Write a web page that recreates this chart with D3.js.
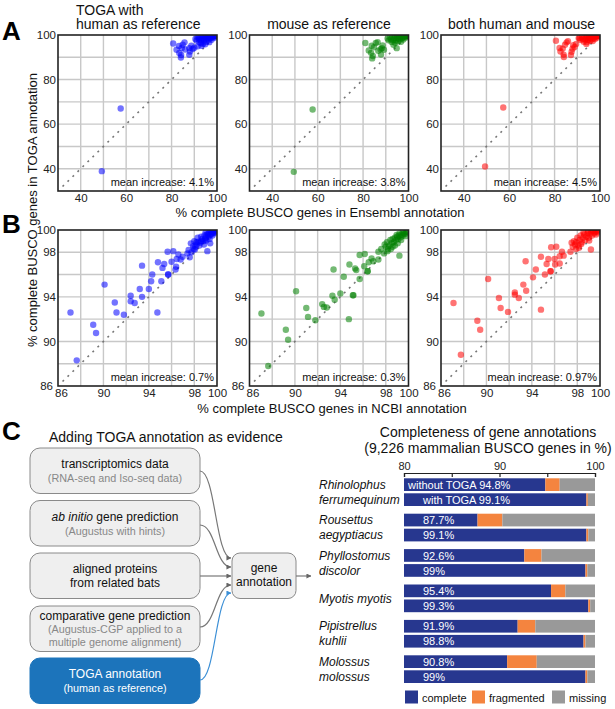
<!DOCTYPE html>
<html><head><meta charset="utf-8">
<script src="https://cdn.jsdelivr.net/npm/d3@7"></script>
<style>body{margin:0;background:#fff}svg{display:block}</style>
</head><body><svg id="c" width="615" height="709"></svg>
<script>
// ---------------- DATA ----------------
const scatterTitles = [["TOGA with","human as reference"],["mouse as reference"],["both human and mouse"]];
const ensemblTicks = [40,60,80,100];
const ensemblGrid = [40,50,60,70,80,90];
const ncbiTicks = [86,90,94,98,100];
const ncbiGrid = [88,90,92,94,96,98];
const meanIncreaseEnsembl = ["4.1%","3.8%","4.5%"];
const meanIncreaseNCBI = ["0.7%","0.3%","0.97%"];

const ensemblHuman = [[57.6,67.0],[49.3,38.9],
[80.7,96.2],[82.2,93.4],[83.4,91.9],[84.1,89.9],[84.2,91.0],[84.9,95.6],[85.7,96.7],[84.5,94.2],[83.3,95.1],[87.8,94.1],[88.1,92.6],[88.7,95.2],[89.3,93.7],[87.8,91.1],[90.0,94.3],[86.0,93.5],
[90.5,98.2],[91.0,97.5],[91.5,99.0],[92.0,98.0],[92.3,96.6],[92.8,99.2],[93.0,97.8],[93.5,98.6],[93.8,96.0],[94.0,99.4],[94.3,97.5],[94.6,98.8],[95.0,99.6],[95.2,97.0],[95.5,98.3],[95.8,99.1],[96.0,99.7],[96.2,97.9],[96.5,98.9],[96.8,99.5],[97.0,99.8],[97.2,98.6],[97.5,99.3],[97.8,99.7],[98.0,99.9],[98.2,99.2],[98.5,99.6],[98.8,99.9],[99.0,99.5],[99.2,99.8],[99.5,99.9],[99.7,99.7],[99.9,99.95],[94.8,95.8],[93.2,95.2],[96.6,96.8],[97.6,97.9],[98.6,98.7],[99.4,99.3],[91.5,94.9],[93.0,96.4],[94.0,98.2],[91.9,99.1]];
const ensemblMouse = [[57.8,66.6],[49.5,38.6],
[81.0,96.4],[82.5,93.1],[83.5,92.0],[84.0,89.5],[84.3,90.6],[85.6,96.4],[86.4,96.8],[84.8,94.5],[83.8,95.2],[87.7,93.6],[88.3,94.1],[88.6,95.3],[87.9,91.2],[89.2,93.4],[86.7,92.9],[94.8,94.1],
[90.8,98.4],[91.3,97.6],[91.8,99.1],[92.2,98.1],[92.6,96.9],[93.0,99.3],[93.3,97.9],[93.7,98.7],[94.1,96.5],[94.2,99.5],[94.5,97.6],[94.8,98.9],[95.1,99.6],[95.4,97.2],[95.6,98.4],[95.9,99.2],[96.1,99.7],[96.3,98.0],[96.6,99.0],[96.9,99.5],[97.1,99.8],[97.3,98.7],[97.6,99.4],[97.9,99.7],[98.1,99.9],[98.3,99.3],[98.6,99.6],[98.9,99.9],[99.1,99.5],[99.3,99.8],[99.6,99.9],[99.8,99.7],[99.9,99.95],[93.4,95.6],[96.7,97.0],[97.7,98.0],[98.7,98.8],[99.4,99.3]];
const ensemblBoth = [[57.4,67.5],[49.4,41.0],
[80.6,97.4],[82.2,94.2],[82.6,92.6],[84.1,90.1],[84.0,91.2],[85.3,96.7],[85.9,97.2],[83.6,93.9],[84.6,95.6],[87.5,92.5],[87.9,93.8],[88.2,95.4],[88.8,94.6],[87.2,91.0],[89.5,96.0],[90.6,98.6],
[91.0,98.5],[91.5,97.8],[92.0,99.2],[92.4,98.2],[92.8,97.0],[93.2,99.4],[93.5,98.0],[93.9,98.8],[94.2,96.8],[94.4,99.5],[94.7,97.8],[95.0,99.0],[95.3,99.7],[95.6,97.4],[95.8,98.5],[96.1,99.3],[96.3,99.8],[96.5,98.1],[96.8,99.1],[97.0,99.6],[97.2,99.85],[97.5,98.8],[97.8,99.5],[98.0,99.8],[98.2,99.9],[98.4,99.4],[98.7,99.7],[99.0,99.9],[99.2,99.6],[99.4,99.85],[99.6,99.95],[99.8,99.8],[99.95,99.95],[94.0,96.0],[96.8,97.3],[97.8,98.2],[98.8,98.9],[99.5,99.4]];

const ncbiHuman = [[87.1,92.6],[90.1,95.1],[89.1,91.5],[89.35,90.75],[87.65,88.3],[91.0,93.5],[91.15,92.6],[91.8,92.4],[92.4,94.1],[92.4,93.6],[92.75,93.45],[93.2,94.7],[93.4,94.0],[93.4,96.8],[94.0,94.7],[94.2,95.4],[94.3,96.0],[94.75,92.6],[94.8,97.1],[95.1,95.4],[95.2,96.6],[95.35,96.95],[95.7,96.0],[95.7,96.0],[95.65,98.05],[96.15,98.1],[96.0,97.15],[96.35,96.45],[96.4,96.7],[96.45,97.4],[96.6,97.8],[96.8,97.35],[96.97,97.6],[97.4,97.9],[97.5,98.2],[97.6,97.55],[97.75,98.0],[97.9,98.55],[98.05,98.25],[98.2,98.7],[98.35,98.95],[98.5,98.85],[98.8,99.0],[98.95,99.15],[99.15,98.1],[99.4,98.8],[99.2,99.6],[99.5,99.65],[99.65,99.75],[99.8,99.8],
[97.7,98.8],[98.0,99.0],[98.1,98.5],[98.3,99.3],[98.45,98.6],[98.6,99.4],[98.7,99.2],[98.9,99.5],[99.0,99.3],[99.1,99.6],[99.25,99.4],[99.3,99.75],[99.4,99.55],[99.55,99.85],[99.6,99.5],[99.7,99.9],[99.75,99.7],[99.85,99.9],[99.9,99.95],[99.45,99.9],[99.0,99.8],[98.6,99.0],[98.2,98.9],[97.95,98.3],[98.85,98.7],[99.05,99.05],[99.35,99.2],[99.65,99.95]];
const ncbiMouse = [[87.05,92.5],[90.1,94.5],[89.2,91.05],[89.4,90.15],[87.65,87.8],[91.0,93.0],[91.15,92.2],[91.8,91.9],[92.4,93.35],[92.55,93.1],[92.8,93.05],[93.3,94.1],[93.5,93.75],[93.4,96.45],[94.0,94.3],[94.3,95.8],[94.8,96.9],[94.75,92.0],[95.1,94.15],[95.15,94.15],[95.3,96.55],[95.4,96.4],[95.7,95.6],[95.7,97.75],[96.15,97.85],[96.1,96.75],[96.4,96.3],[96.4,96.3],[96.5,97.1],[96.75,97.45],[96.9,97.2],[97.35,98.05],[97.35,97.35],[97.85,97.9],[98.0,98.5],[98.15,98.1],[99.2,97.7],
[97.6,98.3],[97.9,98.7],[98.1,98.9],[98.3,98.6],[98.4,99.1],[98.5,98.8],[98.6,99.2],[98.7,98.9],[98.8,99.3],[98.9,99.1],[99.0,99.4],[99.1,99.2],[99.2,99.5],[99.3,99.35],[99.4,99.6],[99.5,99.5],[99.6,99.7],[99.7,99.65],[99.8,99.8],[99.9,99.85],[99.5,99.8],[99.2,99.7],[98.95,99.55],[98.6,98.5],[98.2,98.3],[99.05,98.8],[99.35,99.1],[99.75,99.45],[98.45,98.3],[98.8,98.6]];
const ncbiBoth = [[87.1,93.45],[90.15,95.6],[89.2,91.85],[89.45,91.05],[87.75,88.8],[91.1,93.9],[91.25,93.0],[91.9,92.65],[92.5,94.4],[92.5,94.2],[92.85,93.9],[93.25,95.1],[93.5,94.55],[93.45,97.2],[94.1,95.75],[94.35,96.45],[94.8,92.85],[94.8,97.6],[95.15,96.0],[95.3,96.95],[95.45,97.4],[95.65,96.3],[95.65,96.3],[95.7,98.45],[96.15,98.5],[96.0,97.4],[96.05,96.9],[96.45,97.0],[96.45,97.65],[96.65,98.05],[96.8,97.7],[97.4,98.05],[97.5,98.85],[97.8,98.7],[97.9,98.3],[99.2,98.25],
[97.7,99.0],[97.9,98.9],[98.0,99.3],[98.1,98.6],[98.2,99.1],[98.3,99.5],[98.4,98.9],[98.5,99.3],[98.6,99.6],[98.7,99.1],[98.8,99.4],[98.9,99.7],[99.0,99.3],[99.1,99.6],[99.2,99.8],[99.3,99.5],[99.4,99.9],[99.5,99.7],[99.6,99.85],[99.7,99.95],[99.8,99.8],[99.9,99.95],[99.35,99.95],[98.95,99.9],[98.55,99.8],[98.15,98.4],[97.6,98.5],[99.65,99.6],[99.05,99.05],[98.35,98.75]];

const flowBoxes = [["transcriptomics data","(RNA-seq and Iso-seq data)"],["ab initio gene prediction","(Augustus with hints)"],["aligned proteins","from related bats"],["comparative gene prediction","(Augustus-CGP applied to a","multiple genome alignment)"],["TOGA annotation","(human as reference)"]];

const speciesLines = [["Rhinolophus","ferrumequinum"],["Rousettus","aegyptiacus"],["Phyllostomus","discolor"],["Myotis myotis"],["Pipistrellus","kuhlii"],["Molossus","molossus"]];
const completeWithout = [94.8,87.7,92.6,95.4,91.9,90.8];
const fragmentedWithout = [1.5,2.6,1.8,1.5,1.85,3.1];
const completeWith = [99.1,99.1,99.0,99.3,98.8,99.0];
const fragmentedWith = [0.15,0.2,0.2,0.2,0.2,0.2];
const barTicks = [80,85,90,95,100];
const legendKeys = ["complete","fragmented","missing"];
const legendColors = ["#27378f","#f4843f","#999999"];

// ---------------- DRAW ----------------
const FONT = '"Liberation Sans", Arial, Helvetica, sans-serif';
const svg = d3.select("#c").attr("font-family", FONT);
const defs = svg.append("defs");

const W = 159, H = 156;
const lefts = [58, 249.5, 441];
const tops = [35, 230];

function scatter(data, color, domain, grid, ticks, diag, left, top, mean, id) {
  const x = d3.scaleLinear().domain(domain).range([left, left + W]);
  const y = d3.scaleLinear().domain(domain).range([top + H, top]);
  const g = svg.append("g");
  g.selectAll(".gx").data(grid).join("line")
    .attr("x1", d => x(d)).attr("x2", d => x(d)).attr("y1", top).attr("y2", top + H)
    .attr("stroke", "#c8c8c8").attr("stroke-width", 1.4);
  g.selectAll(".gy").data(grid).join("line")
    .attr("y1", d => y(d)).attr("y2", d => y(d)).attr("x1", left).attr("x2", left + W)
    .attr("stroke", "#c8c8c8").attr("stroke-width", 1.4);
  g.append("line").attr("x1", x(diag)).attr("y1", y(diag)).attr("x2", x(100)).attr("y2", y(100))
    .attr("stroke", "#777").attr("stroke-width", 1.6).attr("stroke-dasharray", "2,5");
  defs.append("clipPath").attr("id", id).append("rect")
    .attr("x", left).attr("y", top).attr("width", W).attr("height", H);
  g.append("g").attr("clip-path", `url(#${id})`)
    .selectAll("circle").data(data).join("circle")
    .attr("cx", d => x(d[0])).attr("cy", d => y(d[1])).attr("r", 3.2)
    .attr("fill", color).attr("fill-opacity", 0.55);
  g.append("rect").attr("x", left).attr("y", top).attr("width", W).attr("height", H)
    .attr("fill", "none").attr("stroke", "#222").attr("stroke-width", 1.6);
  const xa = g.append("g").attr("transform", `translate(0,${top + H})`)
    .call(d3.axisBottom(x).tickValues(ticks).tickSize(0).tickPadding(3).tickFormat(d3.format("d")));
  xa.select(".domain").remove();
  xa.attr("font-family", FONT).attr("font-size", 11.5).selectAll("text").attr("fill", "#222")
    .attr("dx", d => d === domain[0] ? 3 : 0);
  const ya = g.append("g").attr("transform", `translate(${left},0)`)
    .call(d3.axisLeft(y).tickValues(ticks).tickSize(0).tickPadding(2).tickFormat(d3.format("d")));
  ya.select(".domain").remove();
  ya.attr("font-family", FONT).attr("font-size", 11.5).selectAll("text").attr("fill", "#222")
    .attr("dx", d => d === domain[0] ? -3 : 0);
  g.append("text").attr("x", left + W - 3).attr("y", top + H - 5).attr("text-anchor", "end")
    .attr("font-size", 11).attr("fill", "#111").text("mean increase: " + mean);
}

const ensSets = [ensemblHuman, ensemblMouse, ensemblBoth];
const ncbiSets = [ncbiHuman, ncbiMouse, ncbiBoth];
const colors = ["#0000ff", "#008000", "#ff0000"];
for (let i = 0; i < 3; i++) {
  scatter(ensSets[i], colors[i], [30, 100], ensemblGrid, ensemblTicks, 32, lefts[i], tops[0], meanIncreaseEnsembl[i], "ca" + i);
  scatter(ncbiSets[i], colors[i], [86, 100], ncbiGrid, ncbiTicks, 86.4, lefts[i], tops[1], meanIncreaseNCBI[i], "cb" + i);
}

// scatter titles
svg.append("text").attr("x", 76).attr("y", 14.5).attr("font-size", 14).attr("fill", "#111").text(scatterTitles[0][0]);
svg.append("text").attr("x", 76).attr("y", 29).attr("font-size", 14).attr("fill", "#111").text(scatterTitles[0][1]);
svg.append("text").attr("x", lefts[1] + W / 2).attr("y", 28.5).attr("text-anchor", "middle").attr("font-size", 14).attr("fill", "#111").text(scatterTitles[1][0]);
svg.append("text").attr("x", lefts[2] + W / 2 + 1).attr("y", 28.5).attr("text-anchor", "middle").attr("font-size", 14).attr("fill", "#111").text(scatterTitles[2][0]);

// axis titles
svg.append("text").attr("x", 320).attr("y", 217).attr("text-anchor", "middle").attr("font-size", 13).attr("fill", "#111")
  .text("% complete BUSCO genes in Ensembl annotation");
svg.append("text").attr("x", 332).attr("y", 413).attr("text-anchor", "middle").attr("font-size", 13).attr("fill", "#111")
  .text("% complete BUSCO genes in NCBI annotation");
svg.append("text").attr("transform", "translate(37,210) rotate(-90)").attr("text-anchor", "middle").attr("font-size", 13).attr("fill", "#111")
  .text("% complete BUSCO genes in TOGA annotation");

// panel letters
[["A", 40], ["B", 233], ["C", 440]].forEach(([t, yy]) => {
  svg.append("text").attr("x", 2).attr("y", yy).attr("font-size", 26).attr("font-weight", "bold").attr("fill", "#000").text(t);
});

// ---------------- Panel C flow ----------------
svg.append("text").attr("x", 49).attr("y", 442).attr("font-size", 14).attr("fill", "#111").text("Adding TOGA annotation as evidence");

const boxTops = [448, 500.5, 553, 606, 658];
const boxH = 45.5;
flowBoxes.forEach((lines, i) => {
  const toga = i === 4;
  svg.append("rect").attr("x", 30).attr("y", boxTops[i]).attr("width", 170).attr("height", boxH)
    .attr("rx", 10).attr("fill", toga ? "#1c74bb" : "#efefef").attr("stroke", toga ? "#1c74bb" : "#8a8a8a").attr("stroke-width", 1);
  const cy = boxTops[i] + boxH / 2;
  if (i === 2) {
    svg.append("text").attr("x", 115).attr("y", cy - 3).attr("text-anchor", "middle").attr("font-size", 12).attr("fill", "#111").text(lines[0]);
    svg.append("text").attr("x", 115).attr("y", cy + 11).attr("text-anchor", "middle").attr("font-size", 12).attr("fill", "#111").text(lines[1]);
  } else if (i === 3) {
    svg.append("text").attr("x", 115).attr("y", cy - 9).attr("text-anchor", "middle").attr("font-size", 12).attr("fill", "#111").text(lines[0]);
    svg.append("text").attr("x", 115).attr("y", cy + 4.5).attr("text-anchor", "middle").attr("font-size", 10.8).attr("fill", "#888").text(lines[1]);
    svg.append("text").attr("x", 115).attr("y", cy + 17.5).attr("text-anchor", "middle").attr("font-size", 10.8).attr("fill", "#888").text(lines[2]);
  } else {
    const t = svg.append("text").attr("x", 115).attr("y", cy - 2.5).attr("text-anchor", "middle").attr("font-size", 12).attr("fill", toga ? "#fff" : "#111");
    if (i === 1) {
      t.append("tspan").attr("font-style", "italic").text("ab initio");
      t.append("tspan").text(" gene prediction");
    } else t.text(lines[0]);
    svg.append("text").attr("x", 115).attr("y", cy + 11.5).attr("text-anchor", "middle").attr("font-size", 10.8)
      .attr("fill", toga ? "#fff" : "#888").text(lines[1]);
  }
});

// gene annotation box
svg.append("rect").attr("x", 232).attr("y", 553).attr("width", 64).attr("height", 45.5).attr("rx", 8)
  .attr("fill", "#efefef").attr("stroke", "#8a8a8a");
svg.append("text").attr("x", 264).attr("y", 572).attr("text-anchor", "middle").attr("font-size", 12).attr("fill", "#111").text("gene");
svg.append("text").attr("x", 264).attr("y", 586).attr("text-anchor", "middle").attr("font-size", 12).attr("fill", "#111").text("annotation");

function marker(id, col) {
  defs.append("marker").attr("id", id).attr("viewBox", "0 0 6 6").attr("refX", 5.5).attr("refY", 3)
    .attr("markerWidth", 5).attr("markerHeight", 5).attr("markerUnits", "userSpaceOnUse").attr("orient", "auto")
    .append("path").attr("d", "M0,0L6,3L0,6z").attr("fill", col);
}
marker("ag", "#666"); marker("ab", "#3b8fd6");
const link = d3.linkHorizontal();
const links = [[[200, 471], [231, 558]], [[200, 525], [231, 567]], [[200, 576], [231, 576]], [[200, 627], [231, 585]], [[200, 680], [231, 593]]];
links.forEach((l, i) => {
  svg.append("path").attr("d", link({ source: l[0], target: l[1] })).attr("fill", "none")
    .attr("stroke", i === 4 ? "#3b8fd6" : "#777").attr("stroke-width", 1.2)
    .attr("marker-end", i === 4 ? "url(#ab)" : "url(#ag)");
});
svg.append("path").attr("d", "M296,576L311,576").attr("stroke", "#777").attr("stroke-width", 1.2).attr("marker-end", "url(#ag)");

// ---------------- Panel C bars ----------------
svg.append("text").attr("x", 488).attr("y", 437).attr("text-anchor", "middle").attr("font-size", 14).attr("fill", "#111").text("Completeness of gene annotations");
svg.append("text").attr("x", 488).attr("y", 453).attr("text-anchor", "middle").attr("font-size", 14).attr("fill", "#111").text("(9,226 mammalian BUSCO genes in %)");

const xb = d3.scaleLinear().domain([80, 100]).range([404, 595]);
const spNames = speciesLines.map(d => d.join(" "));
const yb = d3.scaleBand().domain(spNames).range([478.3, 478.3 + 6 * 35.4]).padding(0);
const barH = 12.7;

const rows = [];
spNames.forEach((s, i) => {
  rows.push({ sp: s, k: 0, complete: completeWithout[i], fragmented: fragmentedWithout[i], missing: 100 - completeWithout[i] - fragmentedWithout[i],
    label: (i === 0 ? "without TOGA " : "") + completeWithout[i] + "%" });
  rows.push({ sp: s, k: 1, complete: completeWith[i], fragmented: fragmentedWith[i], missing: 100 - completeWith[i] - fragmentedWith[i],
    label: (i === 0 ? "with TOGA " : "") + completeWith[i] + "%" });
});
const stacked = d3.stack().keys(legendKeys)(rows);
const rowY = r => yb(r.sp) + (r.k ? 15 : 0);
svg.append("g").selectAll("g").data(stacked).join("g").attr("fill", (d, i) => legendColors[i])
  .selectAll("rect").data(d => d).join("rect")
  .attr("x", d => xb(Math.max(80, d[0]))).attr("width", d => xb(d[1]) - xb(Math.max(80, d[0])))
  .attr("y", d => rowY(d.data)).attr("height", barH);

svg.append("g").selectAll("text").data(rows).join("text")
  .attr("x", (d, i) => i === 0 ? 408 : 423).attr("y", d => rowY(d) + 10.5)
  .attr("font-size", 11).attr("fill", "#fff").text(d => d.label);

speciesLines.forEach((lines, i) => {
  const top = yb(spNames[i]);
  if (lines.length === 2) {
    svg.append("text").attr("x", 319).attr("y", top + 10.5).attr("font-size", 12).attr("font-style", "italic").attr("fill", "#111").text(lines[0]);
    svg.append("text").attr("x", 319).attr("y", top + 25.5).attr("font-size", 12).attr("font-style", "italic").attr("fill", "#111").text(lines[1]);
  } else {
    svg.append("text").attr("x", 319).attr("y", top + 18.5).attr("font-size", 12).attr("font-style", "italic").attr("fill", "#111").text(lines[0]);
  }
});

const axg = svg.append("g").attr("transform", "translate(0,473)")
  .call(d3.axisTop(xb).tickValues(barTicks).tickSizeInner(-4).tickSizeOuter(-4).tickPadding(3)
    .tickFormat(d => d % 10 === 0 ? d : ""));
axg.attr("font-family", FONT).attr("font-size", 11);
axg.selectAll("path,line").attr("stroke", "#222").attr("stroke-width", 1.2);
axg.selectAll("text").attr("fill", "#222");

// legend
const legX = [405, 472, 552];
legendKeys.forEach((k, i) => {
  svg.append("rect").attr("x", legX[i]).attr("y", 690.5).attr("width", 13).attr("height", 13).attr("fill", legendColors[i]);
  svg.append("text").attr("x", legX[i] + 17).attr("y", 701.5).attr("font-size", 11).attr("fill", "#111").text(k);
});
</script></body></html>
